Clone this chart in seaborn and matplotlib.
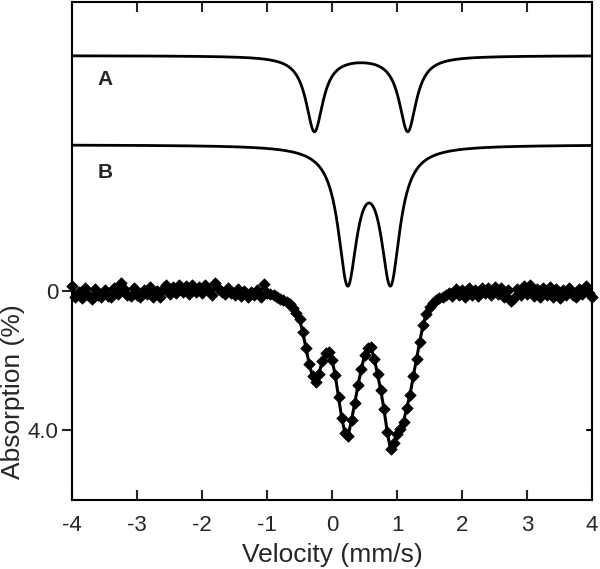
import numpy as np
import pandas as pd
import matplotlib
matplotlib.use("Agg")
import matplotlib.pyplot as plt
import seaborn as sns

# ---- data ----
# measured spectrum, absorption (%) at velocity channels -4.00 ... 4.00 mm/s (step 0.05)
absorption_left = [
    -0.15, 0.18, 0.02, 0.20, -0.08, 0.12, 0.22, -0.05, 0.10, 0.18,
    -0.04, 0.14, 0.16, -0.10, 0.08, -0.24, -0.06, 0.10, 0.14, -0.08,
    0.10, 0.18, -0.02, 0.08, -0.12, 0.16, 0.00, 0.18, -0.06, -0.18,
    0.08, -0.12, 0.06, -0.16, 0.04, -0.14, 0.08, -0.18, 0.02, -0.12,
    0.06, -0.16, -0.02, 0.10, -0.22, -0.10, 0.02, 0.08, -0.10, 0.06,
    0.12, -0.06, 0.14, 0.00, 0.16, 0.04, 0.12, -0.04, 0.16, -0.20,
]
absorption_center = [
    0.05, 0.08, 0.12, 0.18, 0.22, 0.26, 0.31, 0.38, 0.48, 0.62,
    0.80, 1.18, 1.65, 2.10, 2.45, 2.60, 2.38, 2.00, 1.78, 1.76,
    1.98, 2.42, 3.05, 3.65, 4.08, 4.15, 3.70, 3.22, 2.70, 2.25,
    1.85, 1.64, 1.62, 1.95, 2.38, 2.85, 3.40, 4.05, 4.55, 4.35,
    4.10, 3.95, 3.75, 3.35, 2.98, 2.45, 1.95, 1.45, 0.98, 0.65,
    0.45, 0.33, 0.26, 0.20, 0.16, 0.10, 0.05,
]
absorption_right = [
    0.14, -0.06, 0.10, -0.02, 0.16, -0.08, 0.10, -0.04, 0.14, -0.10,
    0.06, -0.08, 0.12, -0.12, 0.08, -0.08, 0.16, -0.02, 0.28, 0.20,
    -0.06, 0.10, -0.14, 0.08, -0.16, 0.14, -0.06, 0.18, -0.10, 0.10,
    -0.12, 0.16, -0.06, 0.20, -0.04, 0.12, -0.10, 0.10, 0.18, -0.06,
    0.08, -0.14, 0.06, 0.16,
]
absorption = absorption_left + absorption_center + absorption_right
velocity = np.round(np.linspace(-4.0, 4.0, len(absorption)), 2)

# fitted quadrupole doublets (Lorentzian lines), displayed with vertical offsets
A_centers = [-0.27, 1.165]
A_hwhm = 0.16
A_depth = 2.16
A_offset = -6.76
B_centers = [0.24, 0.90]
B_hwhm = 0.175
B_depth = 3.81
B_offset = -4.20

x_ticks = [-4, -3, -2, -1, 0, 1, 2, 3, 4]
y_ticks = [0, 4]
y_ticklabels = ["0", "4.0"]

# ---- build tables ----
vgrid = np.linspace(-4, 4, 1601)

def doublet(centers, hwhm, depth):
    return sum(depth * hwhm**2 / ((vgrid - c) ** 2 + hwhm**2) for c in centers)

comp = pd.DataFrame({
    "v": np.concatenate([vgrid, vgrid]),
    "y": np.concatenate([A_offset + doublet(A_centers, A_hwhm, A_depth),
                         B_offset + doublet(B_centers, B_hwhm, B_depth)]),
    "site": ["A"] * len(vgrid) + ["B"] * len(vgrid),
})
meas = pd.DataFrame({"v": velocity, "y": absorption})

# ---- plot ----
sns.set_style("ticks")
plt.rcParams["font.family"] = ["Liberation Sans", "DejaVu Sans"]

fig = plt.figure(figsize=(6.0, 5.69), dpi=100)
ax = fig.add_axes([0.12, 0.1213, 0.8667, 0.8752])

sns.lineplot(data=comp, x="v", y="y", units="site", estimator=None,
             color="black", linewidth=2.0, ax=ax, sort=True)
sns.lineplot(data=meas, x="v", y="y", color="black", linewidth=2.2, ax=ax)
sns.scatterplot(data=meas, x="v", y="y", marker="D", s=34, color="black",
                edgecolor="black", linewidth=0.5, ax=ax, zorder=3, clip_on=False)

ax.set_xlim(-4, 4)
ax.set_ylim(6.0, -8.3)
ax.set_xticks(x_ticks)
ax.set_xticklabels([str(t) for t in x_ticks])
ax.set_yticks(y_ticks)
ax.set_yticklabels(y_ticklabels)

ax.tick_params(axis="x", which="both", direction="in", length=7, width=1.5,
               top=True, bottom=True, labelsize=16, pad=11)
ax.tick_params(axis="y", which="both", direction="out", length=7, width=1.5,
               left=True, right=False, labelsize=16, pad=3)
# inward ticks on the right side
for yt in y_ticks:
    ax.plot([3.92, 4.0], [yt, yt], color="black", lw=1.5, clip_on=False, zorder=4)

for sp in ax.spines.values():
    sp.set_visible(True)
    sp.set_linewidth(1.5)
    sp.set_color("black")

ax.set_xlabel("Velocity (mm/s)", fontsize=19, labelpad=5)
ax.set_ylabel("Absorption (%)", fontsize=19)
ax.yaxis.set_label_coords(-0.091, 0.217)

ax.text(-3.49, -6.07, "A", fontsize=15, fontweight="bold", ha="center", va="center")
ax.text(-3.49, -3.40, "B", fontsize=15, fontweight="bold", ha="center", va="center")

fig.savefig("out.png", dpi=100)
